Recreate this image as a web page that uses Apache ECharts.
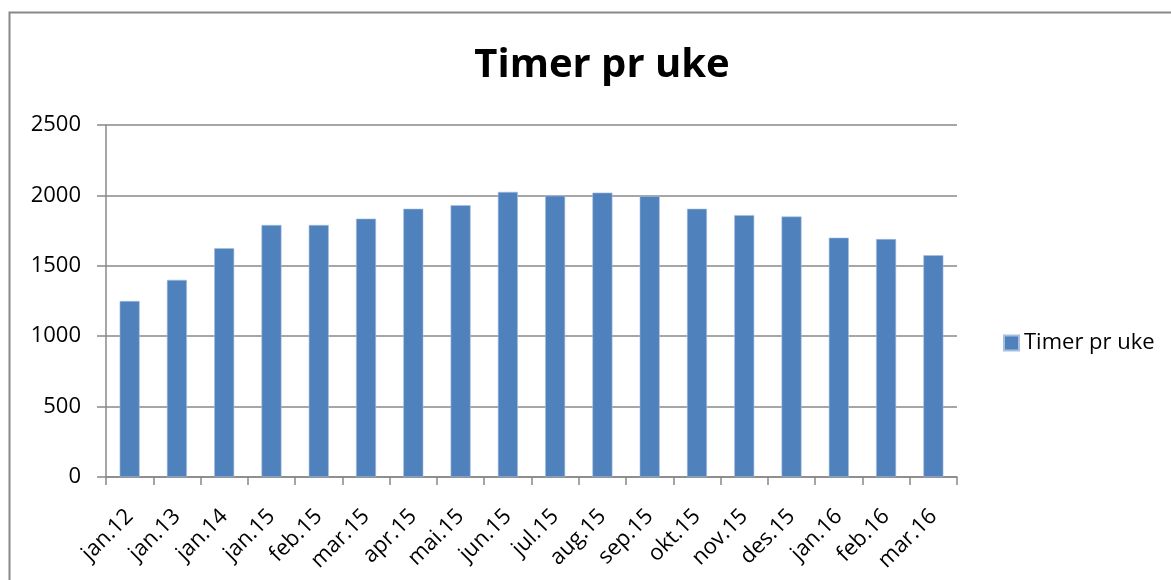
<!DOCTYPE html>
<html>
<head>
<meta charset="utf-8">
<script src="https://cdn.jsdelivr.net/npm/echarts@6/dist/echarts.min.js"></script>
<style>
  html, body { margin: 0; padding: 0; background: #fff; }
  #chart { width: 1171px; height: 580px; }
</style>
</head>
<body>
<div id="chart"></div>
<script>
"use strict";

// timer pr uke, per periode
var categories = [
    'jan.12', 'jan.13', 'jan.14', 'jan.15', 'feb.15', 'mar.15',
    'apr.15', 'mai.15', 'jun.15', 'jul.15', 'aug.15', 'sep.15',
    'okt.15', 'nov.15', 'des.15', 'jan.16', 'feb.16', 'mar.16'
];
var timerPrUke = [
    1250, 1400, 1625, 1790, 1790, 1835,
    1905, 1930, 2025, 1998, 2020, 1995,
    1905, 1860, 1850, 1700, 1690, 1575
];
var seriesName = 'Timer pr uke';

var font = '"Open Sans", Lato, sans-serif';
var gray = '#888888';

var myChart = echarts.init(document.getElementById('chart'));

var option = {
    animation: false,
    textStyle: { fontFamily: font },
    title: {
        text: seriesName,
        left: 597,
        top: 41,
        textAlign: 'center',
        textStyle: { fontSize: 40, fontWeight: 'bold', color: '#000', fontFamily: font }
    },
    graphic: [{
        type: 'rect',
        shape: { x: 9.5, y: 12.5, width: 1300, height: 700 },
        style: { fill: 'none', stroke: gray, lineWidth: 2 },
        silent: true
    }],
    legend: {
        data: [seriesName],
        orient: 'vertical',
        left: 998,
        top: 327,
        itemWidth: 15,
        itemHeight: 15,
        icon: 'rect',
        textStyle: { fontSize: 22, color: '#000', fontFamily: font }
    },
    grid: { left: 106, right: 214, top: 125, bottom: 103 },
    xAxis: {
        type: 'category',
        data: categories,
        axisLine: { lineStyle: { color: gray, width: 1.5 } },
        axisTick: { show: true, length: 8, lineStyle: { color: gray, width: 1.5 } },
        axisLabel: {
            rotate: 45,
            interval: 0,
            margin: 36,
            fontSize: 22,
            color: '#000',
            fontFamily: font
        }
    },
    yAxis: {
        type: 'value',
        min: 0,
        max: 2500,
        interval: 500,
        axisLine: { show: true, lineStyle: { color: gray, width: 1.5 } },
        axisTick: { show: true, length: 9, lineStyle: { color: gray, width: 1.5 } },
        splitLine: { lineStyle: { color: gray, width: 1.5 } },
        axisLabel: {
            margin: 25,
            fontSize: 22,
            color: '#000',
            fontFamily: font,
            formatter: function (v) { return String(v); }
        }
    },
    series: [{
        name: seriesName,
        type: 'bar',
        data: timerPrUke,
        barWidth: 20,
        itemStyle: { color: '#4F81BD', borderColor: '#A7BFDE', borderWidth: 0.6 }
    }]
};

myChart.setOption(option);
</script>
</body>
</html>
